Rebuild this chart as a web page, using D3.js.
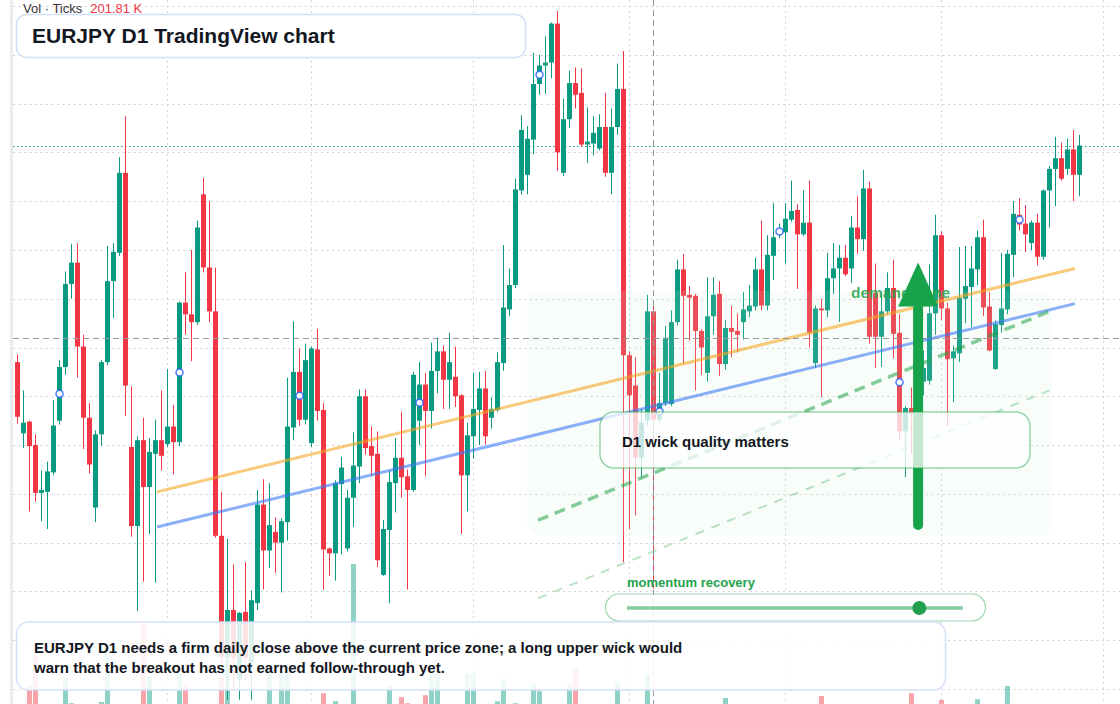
<!DOCTYPE html>
<html>
<head>
  <meta charset="utf-8">
  <title>EURJPY D1 TradingView chart</title>
  <script src="https://cdn.jsdelivr.net/npm/d3@7"></script>
  <style>
    body { margin: 0; background: #fff; }
    svg { display: block; }
  </style>
</head>
<body>
<script>
    // ---- data ----
    // daily candles: [open, high, low, close]
    var ohlc = [
      [161.85,161.93,161.22,161.29],[161.12,161.56,160.97,161.23],[161.24,161.25,160.32,160.99],[161.00,161.11,160.42,160.51],
      [160.51,160.74,160.22,160.54],[160.52,160.83,160.14,160.73],[160.72,161.46,160.69,161.20],[161.25,161.87,161.21,161.80],
      [161.80,162.78,161.72,162.65],[162.65,163.06,162.50,162.87],[162.87,163.07,161.69,162.01],[162.01,162.13,160.96,161.28],
      [161.28,161.43,160.71,160.80],[160.36,161.15,160.21,161.11],[161.11,161.87,160.99,161.85],[161.85,163.04,161.82,162.68],
      [162.68,163.07,162.30,162.98],[162.97,163.95,162.94,163.79],[163.79,164.37,161.30,161.61],[160.98,161.60,160.06,160.17],
      [160.17,161.09,159.30,161.05],[161.05,161.28,159.60,160.57],[160.57,161.07,160.09,160.93],[160.91,161.26,159.59,161.05],
      [161.05,161.56,160.74,160.89],[161.01,161.78,160.98,161.19],[161.19,161.41,160.70,161.03],[161.03,162.47,160.99,162.46],
      [162.46,162.77,162.13,162.34],[162.34,163.00,161.86,162.26],[162.26,163.30,162.23,163.23],[163.57,163.74,162.77,162.82],
      [162.82,163.50,162.26,162.37],[162.37,162.82,160.05,160.07],[160.07,160.52,158.71,158.83],[158.82,160.04,158.39,159.31],
      [159.31,159.78,158.49,158.82],[158.60,159.29,158.39,159.28],[159.29,159.80,158.59,158.82],[158.77,159.51,158.39,159.41],
      [159.38,160.54,159.31,160.39],[160.39,160.65,159.52,159.92],[159.92,160.61,159.74,160.18],[160.11,160.26,159.69,160.00],
      [160.00,160.25,159.49,160.22],[160.21,161.69,160.02,161.19],[161.18,162.27,161.05,161.75],[161.75,161.99,161.20,161.26],
      [161.26,162.04,161.21,161.87],[161.02,162.01,160.98,161.99],[161.98,162.19,161.25,161.35],[161.36,161.43,159.52,159.93],
      [159.94,159.95,159.66,159.89],[159.89,160.64,159.61,160.61],[160.60,160.88,159.88,160.77],[159.94,160.54,159.91,160.46],
      [160.46,161.13,160.16,160.79],[160.78,161.57,160.61,161.50],[161.50,161.57,160.90,160.97],[160.99,161.19,160.68,160.89],
      [160.91,161.14,159.75,159.82],[159.67,160.23,159.66,160.14],[160.13,160.74,159.38,160.62],[160.61,161.07,160.31,160.87],
      [160.87,161.34,160.46,160.67],[160.68,160.75,159.52,160.54],[160.54,161.75,160.52,161.72],[161.25,161.85,161.00,161.62],
      [161.62,161.74,160.68,161.35],[161.35,162.05,161.17,161.76],[161.76,162.10,161.53,161.96],[161.96,162.02,161.37,161.67],
      [161.67,162.15,161.37,161.85],[161.70,162.01,161.39,161.50],[161.51,161.52,160.09,160.69],[160.69,161.23,160.32,161.10],
      [161.09,161.74,160.86,161.37],[161.36,161.75,161.00,161.58],[161.58,161.76,161.00,161.09],[161.28,161.49,161.17,161.37],
      [161.36,161.95,161.34,161.85],[161.84,163.05,161.76,162.41],[162.39,162.81,162.32,162.64],[162.64,163.73,162.61,163.62],
      [163.61,164.38,163.57,164.23],[163.77,164.27,163.57,164.14],[164.13,165.02,163.98,164.70],[164.70,165.00,164.59,164.89],
      [164.89,165.19,164.60,164.92],[164.92,165.33,164.76,165.32],[165.32,165.45,163.81,164.00],[163.79,164.55,163.76,164.34],
      [164.34,164.84,164.25,164.71],[164.71,164.87,164.45,164.59],[164.61,164.86,164.06,164.08],[164.08,164.46,163.89,164.11],
      [164.09,164.37,163.97,164.20],[164.04,164.39,164.02,164.26],[164.26,164.61,163.75,163.79],[163.79,164.45,163.57,164.26],
      [164.26,164.91,164.18,164.65],[164.65,165.04,159.80,161.92],[161.92,161.96,160.14,161.51],[161.61,161.90,160.28,160.87],
      [160.87,161.37,160.66,161.23],[161.25,162.54,161.20,162.37],[162.37,162.43,159.53,161.26],[161.26,161.74,161.23,161.43],
      [161.43,162.22,161.40,162.10],[161.42,162.38,161.40,162.26],[162.26,162.90,162.23,162.80],[162.80,162.96,161.83,162.53],
      [162.54,162.63,162.07,162.51],[162.53,162.55,161.56,162.17],[162.17,162.19,161.72,162.00],[161.74,162.72,161.65,162.32],
      [162.32,162.72,162.13,162.54],[162.55,162.68,161.71,161.83],[161.83,162.28,161.77,162.20],[162.20,162.43,161.90,162.16],
      [162.17,162.35,161.95,162.13],[162.26,162.57,162.08,162.39],[162.37,162.64,162.31,162.43],[162.42,162.92,162.38,162.80],
      [162.80,163.30,162.38,162.43],[162.43,163.15,162.38,162.95],[162.94,163.48,162.69,163.13],[163.16,163.27,163.12,163.22],
      [163.18,163.48,162.86,163.32],[163.31,163.71,163.29,163.40],[163.41,163.47,162.60,163.16],[163.16,163.61,163.14,163.28],
      [163.28,163.71,162.00,162.15],[161.84,162.43,161.79,162.40],[162.40,162.50,161.49,162.38],[162.38,162.97,162.31,162.71],
      [162.71,163.07,162.55,162.81],[162.81,163.05,162.26,162.92],[162.92,163.05,162.73,162.75],[162.81,163.35,162.66,163.23],
      [163.23,163.55,162.96,163.11],[163.11,163.82,162.99,163.63],[163.63,163.70,162.04,162.11],[162.56,162.86,161.79,162.11],
      [162.11,162.56,161.80,162.37],[162.37,162.77,162.34,162.61],[162.61,162.90,161.89,162.14],[162.15,162.34,161.06,161.14],
      [161.14,161.40,160.67,161.38],[161.38,161.59,160.91,161.32],[161.41,162.08,161.34,161.87],[161.65,161.97,161.51,161.79],
      [161.66,162.85,161.62,162.35],[162.35,163.36,162.13,163.15],[163.15,163.19,162.28,162.40],[162.40,162.46,161.19,161.88],
      [161.89,162.02,161.44,161.96],[161.94,163.03,161.85,162.51],[162.50,163.04,162.25,162.63],[162.62,163.04,162.21,162.81],
      [162.80,163.20,162.64,163.13],[163.13,163.31,162.32,162.41],[162.42,162.57,161.96,161.97],[161.78,162.28,161.77,162.24],
      [162.23,162.97,162.15,162.40],[162.39,163.00,162.34,162.96],[162.95,163.50,162.72,163.37],[163.36,163.53,163.20,163.26],
      [163.27,163.46,162.98,163.16],[163.07,163.30,163.00,163.28],[163.28,163.37,162.84,162.93],[162.93,163.62,162.90,163.61],
      [163.61,163.86,163.23,163.83],[163.83,164.16,163.45,163.94],[163.94,164.10,163.71,163.73],[163.83,164.14,163.77,164.03],
      [164.03,164.23,163.50,163.77],[163.77,164.18,163.55,164.07]
    ]

    // tick volume per candle, thousands
    var volumes = [
      118, 96,186,260, 88,104,122,131,207,142,
      126,112, 94,108,145,267, 99,128,135,121,
      133,342,210,117, 92,101, 86,217,190,113,
      124,107, 98,134,205,250,129,119,111,132,
      125,103,217, 84,217,217,127,109, 97,115,
      106,167, 78,147, 91,102,490,123,100, 87,
      130, 95,185,110,157,142,126,105,162,217,
      217, 98, 90, 83,131,217,217,104,116, 82,
      147,202,114,142,128,101,190,172, 93,120,
      134,118,187,230,112, 80, 88, 94,125,109,
      195,136,122,127, 99,215,132, 96,107,113,
      102,119, 76,108, 85,124, 97,121,155, 81,
       79, 92, 74,103,117,110,106, 72, 89, 84,
      115, 91,130,118,160,101, 87, 99, 83,112,
       95,120,133,116,104, 86,110,128, 98,167,
      125, 90,119,129,150,131, 88,121, 93,102,
      152,126,114,108,100,185,117, 89, 97, 82,
      110,122,106,111, 94, 90,113,105
    ]

    var priceTicks = [158.5, 159, 159.5, 160, 160.5, 161, 161.5, 162, 162.5, 163, 163.5, 164, 164.5, 165, 165.5]
    var monthStarts = [25, 49, 76, 102, 128, 154, 181]      // candle index of each vertical grid line
    var markerIdx = [7, 27, 47, 67, 87, 107, 127, 147, 167]  // blue signal dots

    // drawn lines: [index, price] end points
    var orangeLine = [[23.25, 160.52], [176.25, 162.81]]
    var blueLine   = [[23.25, 160.16], [176.25, 162.45]]
    var channelTop = [[86.75, 160.23], [172.0, 162.37]]
    var channelLow = [[86.75, 159.43], [172.0, 161.56]]

    var demandZone = {i0: 84.9, i1: 172.4, top: 162.58, bottom: 160.07}
    var arrowIdx = 150.1, arrowFrom = 160.18, arrowBase = 162.42, arrowTip = 162.87
    var crossIdx = 106, crossPrice = 162.10
    var momentum = 0.87

    var titleText = "EURJPY D1 TradingView chart"
    var calloutText = "D1 wick quality matters"
    var noteLines = ["EURJPY D1 needs a firm daily close above the current price zone; a long upper wick would",
                     "warn that the breakout has not earned follow-through yet."]

    // ---- scales ----
    var W = 1120, H = 704
    var up = "#089981", down = "#f23645"
    var x = d3.scaleLinear().domain([0, 177]).range([17.5, 1079.5])
    var y = d3.scaleLinear().domain([158.5, 165.5]).range([689, 6])
    var yVol = d3.scaleLinear().domain([0, 500]).range([760, 560])
    var xMom = d3.scaleLinear().domain([0, 1]).range([627, 963])
    var line = d3.line().x(function(d) { return x(d[0]) }).y(function(d) { return y(d[1]) })

    var svg = d3.select("body").append("svg")
        .attr("width", W).attr("height", H)
        .style("font-family", '"Liberation Sans", Arial, sans-serif')

    svg.append("rect").attr("width", W).attr("height", H).attr("fill", "#fff")
    svg.append("rect").attr("x", 10).attr("y", 0).attr("width", 3).attr("height", H).attr("fill", "#ebebeb")

    // grid
    svg.selectAll(".hgrid").data(priceTicks).enter().append("line")
        .attr("x1", 13).attr("x2", W)
        .attr("y1", function(d) { return Math.round(y(d)) + 0.5 })
        .attr("y2", function(d) { return Math.round(y(d)) + 0.5 })
        .attr("stroke", "#d3d3d3").attr("stroke-dasharray", "2 3.5")
    svg.selectAll(".vgrid").data(monthStarts).enter().append("line")
        .attr("x1", function(d) { return x(d) }).attr("x2", function(d) { return x(d) })
        .attr("y1", 0).attr("y2", H)
        .attr("stroke", "#d3d3d3").attr("stroke-dasharray", "2 3.5")

    // volume
    svg.selectAll(".vol").data(volumes).enter().append("rect")
        .attr("x", function(d, i) { return x(i) - 2.5 })
        .attr("y", function(d) { return yVol(d) })
        .attr("width", 5)
        .attr("height", function(d) { return yVol(0) - yVol(d) })
        .attr("fill", function(d, i) { return ohlc[i][3] >= ohlc[i][0] ? up : down })
        .attr("opacity", 0.45)

    // last price line
    var last = ohlc[ohlc.length - 1][3]
    svg.append("line").attr("x1", 13).attr("x2", W)
        .attr("y1", Math.round(y(last)) + 0.5).attr("y2", Math.round(y(last)) + 0.5)
        .attr("stroke", up).attr("stroke-dasharray", "1.5 2.5")

    // candles
    var candle = svg.selectAll(".candle").data(ohlc).enter().append("g")
    candle.append("line")
        .attr("x1", function(d, i) { return x(i) }).attr("x2", function(d, i) { return x(i) })
        .attr("y1", function(d) { return y(d[1]) }).attr("y2", function(d) { return y(d[2]) })
        .attr("stroke", function(d) { return d[3] >= d[0] ? up : down })
    candle.append("rect")
        .attr("x", function(d, i) { return x(i) - 2.5 })
        .attr("y", function(d) { return y(Math.max(d[0], d[3])) })
        .attr("width", 5)
        .attr("height", function(d) { return Math.max(1, Math.abs(y(d[0]) - y(d[3]))) })
        .attr("fill", function(d) { return d[3] >= d[0] ? up : down })

    // demand zone
    svg.append("rect")
        .attr("x", x(demandZone.i0)).attr("y", y(demandZone.top))
        .attr("width", x(demandZone.i1) - x(demandZone.i0))
        .attr("height", y(demandZone.bottom) - y(demandZone.top))
        .attr("rx", 12)
        .attr("fill", "#c8f0d2").attr("opacity", 0.13)

    // trend lines and channel
    svg.append("path").attr("d", line(orangeLine)).attr("fill", "none")
        .attr("stroke", "#f5a623").attr("stroke-opacity", 0.6).attr("stroke-width", 3)
    svg.append("path").attr("d", line(blueLine)).attr("fill", "none")
        .attr("stroke", "#3d7af5").attr("stroke-opacity", 0.6).attr("stroke-width", 3)
    svg.append("path").attr("d", line(channelTop)).attr("fill", "none")
        .attr("stroke", "#22a34a").attr("stroke-opacity", 0.55).attr("stroke-width", 3.5)
        .attr("stroke-dasharray", "11 7")
    svg.append("path").attr("d", line(channelLow)).attr("fill", "none")
        .attr("stroke", "#22a34a").attr("stroke-opacity", 0.3).attr("stroke-width", 2)
        .attr("stroke-dasharray", "9 8")

    // crosshair
    svg.append("line").attr("x1", Math.floor(x(crossIdx)) + 0.5).attr("x2", Math.floor(x(crossIdx)) + 0.5)
        .attr("y1", 0).attr("y2", H)
        .attr("stroke", "#9598a1").attr("stroke-dasharray", "6 4")
    svg.append("line").attr("x1", 13).attr("x2", W)
        .attr("y1", Math.round(y(crossPrice)) + 0.5).attr("y2", Math.round(y(crossPrice)) + 0.5)
        .attr("stroke", "#9598a1").attr("stroke-dasharray", "6 4")

    // signal markers at mid body
    svg.selectAll(".mark").data(markerIdx).enter().append("circle")
        .attr("cx", function(d) { return x(d) })
        .attr("cy", function(d) { return y((ohlc[d][0] + ohlc[d][3]) / 2) })
        .attr("r", 3.5)
        .attr("fill", "#fff").attr("stroke", "#2962ff").attr("stroke-opacity", 0.85).attr("stroke-width", 1.5)

    // demand zone label + arrow
    svg.append("text").attr("x", 851).attr("y", 298)
        .attr("font-size", 15.5).attr("font-weight", "bold")
        .attr("fill", "#22a34a").attr("fill-opacity", 0.85)
        .text("demand zone")
    var ax = x(arrowIdx)
    svg.append("line").attr("x1", ax).attr("x2", ax)
        .attr("y1", y(arrowFrom)).attr("y2", y(arrowBase) + 2)
        .attr("stroke", "#16a34a").attr("stroke-width", 10).attr("stroke-linecap", "round")
    svg.append("path")
        .attr("d", "M" + ax + "," + y(arrowTip) + "L" + (ax + 20) + "," + y(arrowBase) + "L" + (ax - 20) + "," + y(arrowBase) + "Z")
        .attr("fill", "#16a34a")

    // title
    svg.append("rect").attr("x", 16.5).attr("y", 14.5).attr("width", 509).attr("height", 43).attr("rx", 10)
        .attr("fill", "#fff").attr("fill-opacity", 0.96).attr("stroke", "#d3e1f8").attr("stroke-width", 1.5)
    svg.append("text").attr("x", 32).attr("y", 43)
        .attr("font-size", 21).attr("font-weight", "bold").attr("fill", "#131722")
        .text(titleText)
    var vol = svg.append("text").attr("x", 23).attr("y", 13).attr("font-size", 13)
    vol.append("tspan").attr("fill", "#333").text("Vol · Ticks")
    vol.append("tspan").attr("dx", 8).attr("fill", down).text("201.81 K")

    // callout
    svg.append("rect").attr("x", 600).attr("y", 412).attr("width", 430).attr("height", 56).attr("rx", 14)
        .attr("fill", "#fff").attr("fill-opacity", 0.75)
        .attr("stroke", "#22a34a").attr("stroke-opacity", 0.45).attr("stroke-width", 1.5)
    svg.append("text").attr("x", 622).attr("y", 447)
        .attr("font-size", 15).attr("font-weight", "bold").attr("fill", "#131722")
        .text(calloutText)

    // momentum slider
    svg.append("text").attr("x", 627).attr("y", 587)
        .attr("font-size", 13).attr("font-weight", "bold").attr("fill", "#22a34a")
        .text("momentum recovery")
    svg.append("rect").attr("x", 605.5).attr("y", 594).attr("width", 380).attr("height", 27).attr("rx", 13.5)
        .attr("fill", "#fff").attr("fill-opacity", 0.85)
        .attr("stroke", "#22a34a").attr("stroke-opacity", 0.45).attr("stroke-width", 1.2)
    svg.append("line").attr("x1", xMom(0)).attr("x2", xMom(1)).attr("y1", 608).attr("y2", 608)
        .attr("stroke", "#22a34a").attr("stroke-opacity", 0.55).attr("stroke-width", 3.5)
    svg.append("circle").attr("cx", xMom(momentum)).attr("cy", 608).attr("r", 7).attr("fill", "#22a04b")

    // note
    svg.append("rect").attr("x", 16.5).attr("y", 622).attr("width", 929).attr("height", 68).attr("rx", 12)
        .attr("fill", "#fff").attr("fill-opacity", 0.86).attr("stroke", "#d3e1f8").attr("stroke-width", 1.5)
    svg.selectAll(".note").data(noteLines).enter().append("text")
        .attr("x", 34).attr("y", function(d, i) { return 653 + i * 20 })
        .attr("font-size", 15).attr("font-weight", "bold").attr("fill", "#131722")
        .text(function(d) { return d })
</script>
</body>
</html>
